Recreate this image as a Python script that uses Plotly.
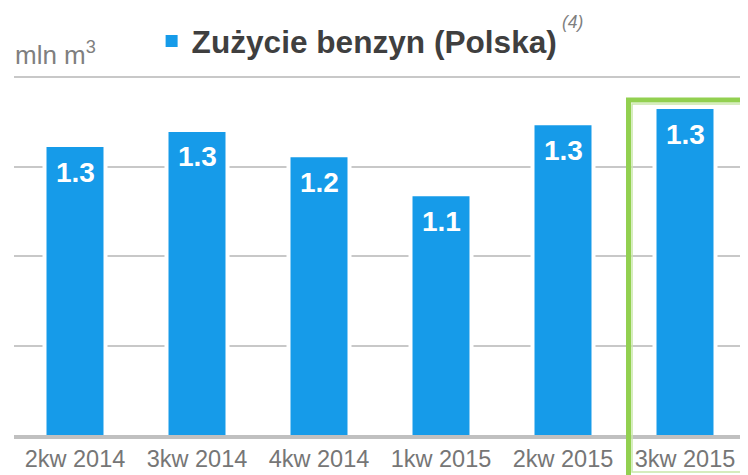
import plotly.graph_objects as go

categories = ["2kw 2014", "3kw 2014", "4kw 2014", "1kw 2015", "2kw 2015", "3kw 2015"]
values = [1.255, 1.291, 1.231, 1.138, 1.307, 1.3455]
series_name = "Zużycie benzyn (Polska)"
unit_label = "mln m<sup>3</sup>"
footnote = "(4)"

FONT = "Liberation Sans, Arial, sans-serif"
BLUE = "#169BE9"
GREEN = "#92D050"

fig = go.Figure()
fig.add_trace(go.Bar(
    x=categories, y=values, name=series_name,
    marker=dict(color=BLUE, line=dict(color="white", width=4)),
    width=0.5, showlegend=False,
))
# legend entry (same series, without white outline so the key is a full square)
fig.add_trace(go.Bar(
    x=[categories[0]], y=[None], name=series_name,
    marker=dict(color=BLUE, line=dict(width=0)), showlegend=True, hoverinfo="skip",
))

for c, v in zip(categories, values):
    fig.add_annotation(x=c, y=v, text=f"{v:.1f}", showarrow=False,
                       yanchor="middle", yshift=-27,
                       font=dict(family=FONT, size=28, color="white", weight="bold"))

fig.add_annotation(xref="paper", yref="paper", x=-0.001, y=1.062, xanchor="left", yanchor="middle",
                   text=unit_label, showarrow=False,
                   font=dict(family=FONT, size=26, color="#7F7F7F"))
fig.add_annotation(xref="paper", yref="paper", x=0.746, y=1.151, xanchor="left", yanchor="middle",
                   text="<i>" + footnote + "</i>", showarrow=False,
                   font=dict(family=FONT, size=17.5, color="#7F7F7F"))

# highlight box around last period
fig.add_shape(type="rect", xref="paper", yref="paper", x0=0.8395, x1=1.02, y0=-0.14, y1=0.933,
              line=dict(color=GREEN, width=5), fillcolor="rgba(0,0,0,0)", layer="above")
fig.add_shape(type="rect", xref="paper", yref="paper", x0=0.8443, x1=0.9995, y0=-0.103, y1=0.922,
              line=dict(color="#C9E8A9", width=1.5), fillcolor="rgba(0,0,0,0)", layer="above")

fig.update_layout(
    width=748, height=475,
    margin=dict(l=6, r=10, t=68, b=48, autoexpand=False),
    paper_bgcolor="white", plot_bgcolor="white",
    font=dict(family=FONT),
    barmode="overlay",
    legend=dict(orientation="h", x=0.188, y=1.096, xanchor="left", yanchor="middle",
                font=dict(family=FONT, size=31.6, color="#3F3F3F", weight="bold"),
                bgcolor="rgba(0,0,0,0)"),
    xaxis=dict(showline=True, linecolor="#C0C0C0", linewidth=4, ticks="",
               tickfont=dict(family=FONT, size=23.5, color="#767676"), showgrid=False),
    yaxis=dict(range=[0.565, 1.4195], tick0=0.565, dtick=0.213, showticklabels=False,
               showgrid=True, gridcolor="#C8C8C8", gridwidth=2, zeroline=False),
)

fig.write_html("out.html")
